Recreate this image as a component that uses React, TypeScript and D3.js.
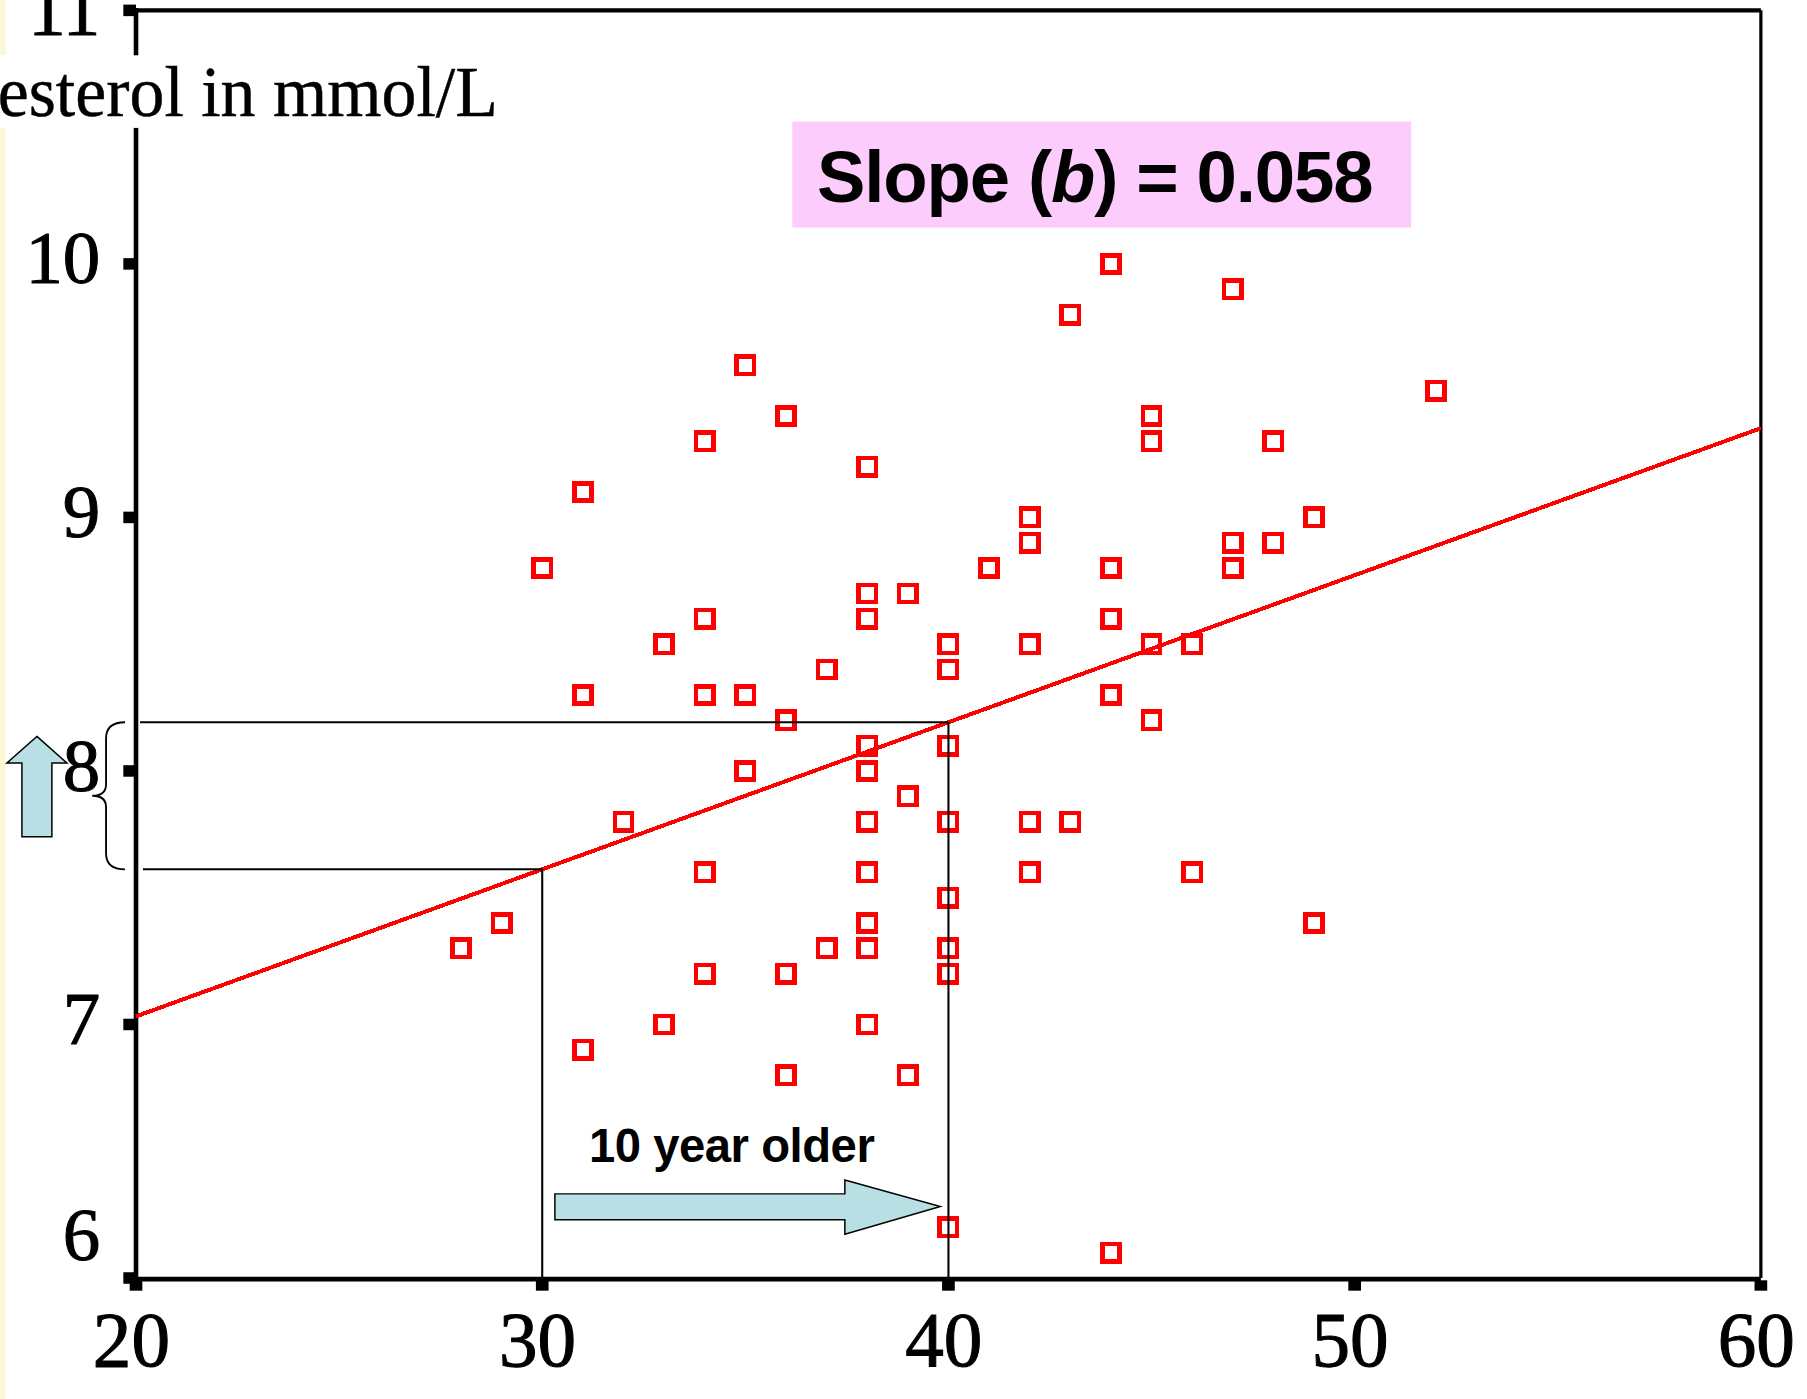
import React from 'react';
import * as d3 from 'd3';

// ---- data (age in years, cholesterol in mmol/L) ----
const ages = [
  44, 47, 43, 35, 52, 36, 45, 34, 45, 48,
  38, 31, 42, 49, 30, 42, 47, 48, 41, 44,
  47, 38, 39, 33, 34, 38, 44, 40, 42, 45,
  46, 37, 40, 31, 34, 35, 44, 36, 45, 38,
  40, 35, 38, 39, 32, 38, 40, 42, 43, 34,
  38, 42, 46, 40, 29, 38, 49, 28, 37, 38,
  40, 34, 36, 40, 33, 38, 31, 36, 39, 40,
  44,
];
const cholesterol = [
  10.0, 9.9, 9.8, 9.6, 9.5, 9.4, 9.4, 9.3, 9.3, 9.3,
  9.2, 9.1, 9.0, 9.0, 8.8, 8.9, 8.9, 8.9, 8.8, 8.8,
  8.8, 8.7, 8.7, 8.5, 8.6, 8.6, 8.6, 8.5, 8.5, 8.5,
  8.5, 8.4, 8.4, 8.3, 8.3, 8.3, 8.3, 8.2, 8.2, 8.1,
  8.1, 8.0, 8.0, 7.9, 7.8, 7.8, 7.8, 7.8, 7.8, 7.6,
  7.6, 7.6, 7.6, 7.5, 7.4, 7.4, 7.4, 7.3, 7.3, 7.3,
  7.3, 7.2, 7.2, 7.2, 7.0, 7.0, 6.9, 6.8, 6.8, 6.2,
  6.1,
];
const intercept = 5.872;
const slope = 0.058;
const xTicks = [20, 30, 40, 50, 60];
const yTicks = [6, 7, 8, 9, 10, 11];
const compareAges = [30, 40];
const yLabel = 'esterol in mmol/L';
const slopeLabel = ['Slope (', 'b', ') = 0.058'];
const olderLabel = '10 year older';

export default function App() {
  const W = 1568;
  const H = 1214;
  const x = d3.scaleLinear().domain([20, 60]).range([118, 1528]);
  const y = d3.scaleLinear().domain([6, 11]).range([1109, 9]);
  const pred = (a: number) => intercept + slope * a;
  const line = d3
    .line<number>()
    .x((a) => x(a))
    .y((a) => y(pred(a)));

  const [a0, a1] = compareAges;
  const yLow = y(pred(a0));
  const yHigh = y(pred(a1));
  const mid = (yLow + yHigh) / 2;
  const brace = `M108.5 ${yHigh} C98 ${yHigh} 92 ${yHigh + 4} 92 ${yHigh + 14} L92 ${mid - 10} C92 ${mid - 3} 87 ${mid} 80 ${mid} C87 ${mid} 92 ${mid + 3} 92 ${mid + 10} L92 ${yLow - 14} C92 ${yLow - 4} 98 ${yLow} 108.5 ${yLow}`;

  const ax0 = x(a0) + 11;
  const axHead = x(37.45);
  const axTip = x(39.8);
  const rArrow = [
    [ax0, 1036], [axHead, 1036], [axHead, 1024], [axTip, 1047],
    [axHead, 1071], [axHead, 1058.5], [ax0, 1058.5],
  ];
  const uArrow = [
    [32, 639], [58, 662], [45, 662], [45, 726], [19, 726], [19, 662], [6, 662],
  ];

  return (
    <svg
      width={1807}
      height={1399}
      viewBox={`0 0 ${W} ${H}`}
      style={{ position: 'absolute', left: 0, top: 0, background: '#ffffff' }}
    >
      <rect x={0} y={0} width={W} height={H} fill="#ffffff" />
      <rect x={0} y={0} width={5} height={H} fill="#fbf8d8" />

      {/* frame */}
      <line x1={x(20)} x2={x(60)} y1={y(11)} y2={y(11)} stroke="#000" strokeWidth={3.5} />
      <line x1={x(60)} x2={x(60)} y1={y(11)} y2={y(6)} stroke="#000" strokeWidth={2.8} />
      <line x1={x(20)} x2={x(60)} y1={y(6) + 1} y2={y(6) + 1} stroke="#000" strokeWidth={4} />
      <line x1={x(20)} x2={x(20)} y1={y(11) - 2} y2={y(6) + 3} stroke="#000" strokeWidth={4} />

      {/* ticks */}
      {yTicks.map((t) => (
        <rect key={'yt' + t} x={x(20) - 11} y={y(t) - 5} width={11} height={10} fill="#000" />
      ))}
      {xTicks.map((t) => (
        <rect key={'xt' + t} x={x(t) - 5.5} y={y(6) + 2} width={11} height={9} fill="#000" />
      ))}

      {/* tick labels */}
      {yTicks.map((t) => (
        <text
          key={'yl' + t}
          x={87}
          y={t === 6 ? y(t) - 16 : t === 11 ? y(t) + 21 : y(t) + 17}
          textAnchor="end"
          fontFamily="'Liberation Serif', 'Times New Roman', serif"
          fontSize={65}
          fill="#000"
          stroke="#000"
          strokeWidth={0.9}
        >
          {t}
        </text>
      ))}
      {xTicks.map((t) => (
        <text
          key={'xl' + t}
          x={x(t) - 4}
          y={1185}
          textAnchor="middle"
          fontFamily="'Liberation Serif', 'Times New Roman', serif"
          fontSize={67}
          fill="#000"
          stroke="#000"
          strokeWidth={0.9}
        >
          {t}
        </text>
      ))}

      {/* data points */}
      {ages.map((a, i) => (
        <rect
          key={'p' + i}
          x={x(a) - 7.5}
          y={y(cholesterol[i]) - 7.5}
          width={15}
          height={15}
          fill="none"
          stroke="#ff0000"
          strokeWidth={4}
          shapeRendering="crispEdges"
        />
      ))}

      {/* regression line */}
      <path d={line([20, 60]) || ''} fill="none" stroke="#ff0000" strokeWidth={3.5} shapeRendering="crispEdges" />

      {/* guide lines */}
      <line x1={121.5} x2={x(a1)} y1={yHigh} y2={yHigh} stroke="#000" strokeWidth={1.8} />
      <line x1={124} x2={x(a0)} y1={yLow} y2={yLow} stroke="#000" strokeWidth={1.8} />
      <line x1={x(a1)} x2={x(a1)} y1={yHigh} y2={y(6)} stroke="#000" strokeWidth={1.8} />
      <line x1={x(a0)} x2={x(a0)} y1={yLow} y2={y(6)} stroke="#000" strokeWidth={1.8} />
      <path d={brace} fill="none" stroke="#000" strokeWidth={1.6} />

      {/* y axis title (clipped in the original) */}
      <rect x={0} y={48} width={442} height={63} fill="#ffffff" />
      <text
        x={-2}
        y={101}
        fontFamily="'Liberation Serif', 'Times New Roman', serif"
        fontSize={62}
        textLength={434}
        lengthAdjust="spacingAndGlyphs"
        fill="#000"
        stroke="#000"
        strokeWidth={0.4}
      >
        {yLabel}
      </text>

      {/* slope annotation */}
      <rect x={687.5} y={105.5} width={537} height={92} fill="#fccdfc" />
      <text
        x={709}
        y={175}
        fontFamily="'Liberation Sans', Arial, sans-serif"
        fontWeight="bold"
        fontSize={63}
        letterSpacing={-1}
        fill="#000"
      >
        <tspan>{slopeLabel[0]}</tspan>
        <tspan fontStyle="italic">{slopeLabel[1]}</tspan>
        <tspan>{slopeLabel[2]}</tspan>
      </text>

      {/* 10 year older annotation */}
      <text
        x={511}
        y={1008}
        fontFamily="'Liberation Sans', Arial, sans-serif"
        fontWeight="bold"
        fontSize={41}
        letterSpacing={-0.4}
        fill="#000"
      >
        {olderLabel}
      </text>
      <polygon points={rArrow.map((p) => p.join(',')).join(' ')} fill="#b8dfe3" stroke="#000" strokeWidth={1.3} />
      <polygon points={uArrow.map((p) => p.join(',')).join(' ')} fill="#b8dfe3" stroke="#000" strokeWidth={1.3} />
    </svg>
  );
}
